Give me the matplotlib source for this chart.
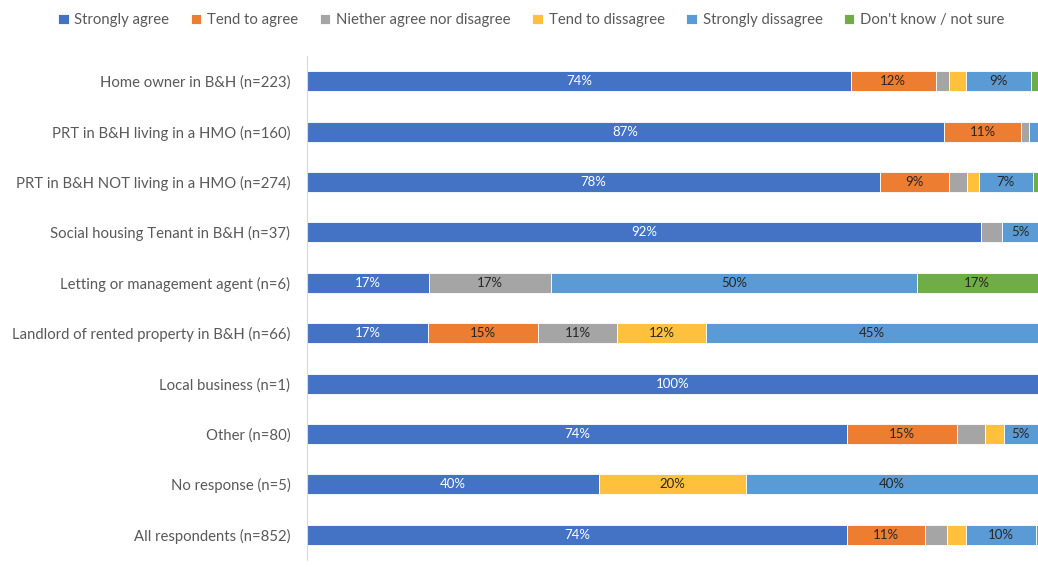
import matplotlib.pyplot as plt
import numpy as np

plt.rcParams['font.family'] = ['Lato', 'DejaVu Sans']

groups = ['Home owner in B&H (n=223)', 'PRT in B&H living in a HMO (n=160)',
          'PRT in B&H NOT living in a HMO (n=274)', 'Social housing Tenant in B&H (n=37)',
          'Letting or management agent (n=6)', 'Landlord of rented property in B&H (n=66)',
          'Local business (n=1)', 'Other (n=80)', 'No response (n=5)', 'All respondents (n=852)']

answers = ['Strongly agree', 'Tend to agree', 'Niether agree nor disagree',
           'Tend to dissagree', 'Strongly dissagree', "Don't know / not sure"]

strongly_agree = [74.4, 87.1, 78.4, 92.2, 16.7, 16.6, 100, 73.9, 40.0, 73.9]
tend_agree = [11.6, 10.6, 9.4, 0, 0, 15.0, 0, 15.0, 0, 10.7]
neither = [1.8, 1.1, 2.5, 2.9, 16.7, 10.8, 0, 3.8, 0, 3.0]
tend_disagree = [2.3, 0, 1.6, 0, 0, 12.2, 0, 2.6, 20.0, 2.5]
strongly_disagree = [9.0, 1.2, 7.4, 4.9, 50.0, 45.4, 0, 4.7, 40.0, 9.6]
dont_know = [0.9, 0, 0.7, 0, 16.6, 0, 0, 0, 0, 0.4]

series = [strongly_agree, tend_agree, neither, tend_disagree, strongly_disagree, dont_know]
colors = ['#4472C4', '#ED7D31', '#A5A5A5', '#FFC13B', '#5B9BD5', '#70AD47']
text_colors = ['white', '#262626', '#262626', '#262626', '#262626', '#262626']

fig = plt.figure(figsize=(10.38, 5.67), dpi=100)
ax = fig.add_axes([307 / 1038, 1 - 560 / 567, (1038 - 307) / 1038, (560 - 56) / 567])

y = np.arange(len(groups))
left = np.zeros(len(groups))
for vals, col, tcol, name in zip(series, colors, text_colors, answers):
    vals = np.array(vals, dtype=float)
    bars = ax.barh(y, vals, left=left, height=0.4, color=col, edgecolor='white',
                   linewidth=0.6, label=name)
    for b, v, l in zip(bars, vals, left):
        if v >= 4.5:
            ax.text(l + v / 2, b.get_y() + b.get_height() / 2, f'{round(v)}%',
                    ha='center', va='center', color=tcol, fontsize=9.5)
    left += vals

ax.set_xlim(0, 100)
ax.set_ylim(len(groups) - 0.5, -0.5)
ax.set_yticks(y)
ax.set_yticklabels(groups, fontsize=10.7, color='#595959')
ax.tick_params(axis='y', length=0, pad=12)
ax.set_xticks([])
for s in ['top', 'right', 'bottom']:
    ax.spines[s].set_visible(False)
ax.spines['left'].set_color('#d9d9d9')

fig.legend(loc='upper center', bbox_to_anchor=(0.512, 1.0), ncol=6, frameon=False,
           fontsize=10.7, handlelength=0.7, handleheight=0.7, handletextpad=0.4,
           columnspacing=1.45, labelcolor='#595959')

plt.savefig('out.png', dpi=100)
